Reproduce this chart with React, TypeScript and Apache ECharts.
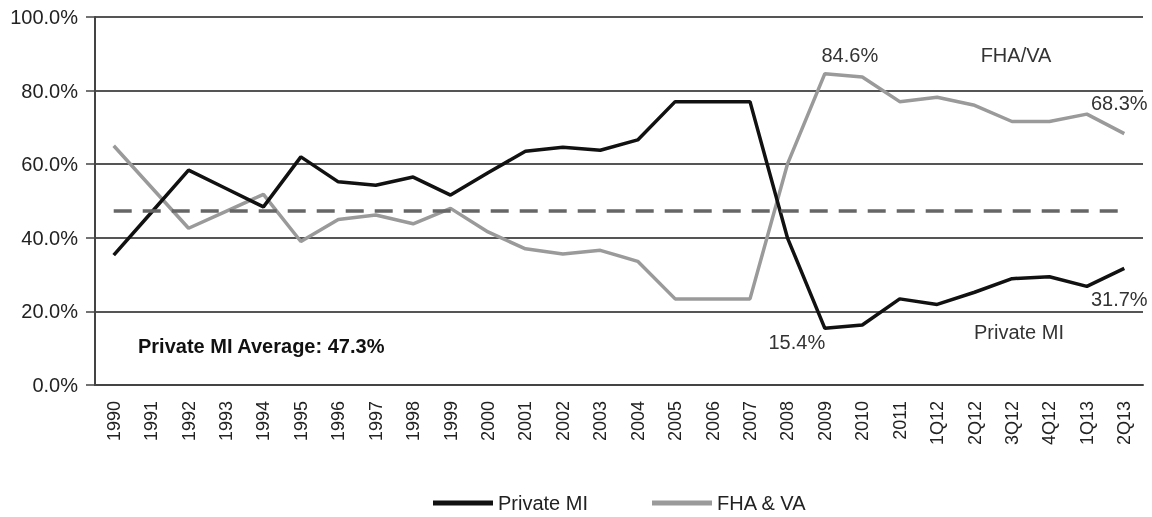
import React, { useEffect, useRef } from "react";
import * as echarts from "echarts";

const categories = ["1990","1991","1992","1993","1994","1995","1996","1997","1998","1999","2000","2001","2002","2003","2004","2005","2006","2007","2008","2009","2010","2011","1Q12","2Q12","3Q12","4Q12","1Q13","2Q13"];
const privateMI = [35.3,46.8,58.4,53.4,48.4,62.0,55.2,54.3,56.5,51.6,57.7,63.5,64.6,63.8,66.6,77.0,77.0,77.0,40.0,15.4,16.3,23.4,21.9,25.2,28.9,29.4,26.8,31.7];
const fhaVA = [65.0,53.8,42.6,47.2,51.8,39.0,45.0,46.2,43.8,48.0,41.6,37.0,35.6,36.6,33.6,23.4,23.4,23.4,60.0,84.6,83.7,77.0,78.2,76.0,71.6,71.6,73.6,68.3];
const privateMIAverage = 47.3;
const yTicks = { min: 0, max: 100, interval: 20 };

const FONT = '"Liberation Sans", Arial, Helvetica, sans-serif';

export default function App() {
  const ref = useRef<HTMLDivElement>(null);
  useEffect(() => {
    if (!ref.current) return;
    const chart = echarts.init(ref.current, null, { renderer: "svg" });
    const last = categories.length - 1;
    const peakIdx = fhaVA.indexOf(Math.max(...fhaVA));
    const troughIdx = privateMI.indexOf(Math.min(...privateMI));
    const labelStyle = { color: "#333", fontSize: 20, fontFamily: FONT, formatter: (p: any) => Number(p.value).toFixed(1) + "%" };
    chart.setOption({
      animation: false,
      textStyle: { fontFamily: FONT },
      grid: { left: 95, right: 9, top: 17, bottom: 132 },
      xAxis: {
        type: "category",
        data: categories,
        boundaryGap: true,
        axisLine: { lineStyle: { color: "#444", width: 2 } },
        axisTick: { length: 8, lineStyle: { color: "#444", width: 1.5 } },
        axisLabel: { rotate: 90, fontSize: 18, color: "#222", margin: 16, fontFamily: FONT },
      },
      yAxis: {
        type: "value",
        min: yTicks.min,
        max: yTicks.max,
        interval: yTicks.interval,
        axisLine: { show: true, lineStyle: { color: "#444", width: 2 } },
        axisTick: { show: true, length: 9, lineStyle: { color: "#444", width: 1.5 } },
        axisLabel: { fontSize: 20, color: "#222", margin: 17, fontFamily: FONT, formatter: (v: number) => v.toFixed(1) + "%" },
        splitLine: { lineStyle: { color: "#555", width: 2 } },
      },
      legend: {
        left: 433,
        top: 493,
        padding: 0,
        icon: "rect",
        itemWidth: 60,
        itemHeight: 5,
        itemGap: 64,
        textStyle: { fontSize: 20, lineHeight: 20, color: "#222", fontFamily: FONT },
        data: ["Private MI", "FHA & VA"],
      },
      series: [
        {
          name: "Private MI",
          type: "line",
          data: privateMI.map((v, i) => {
            if (i === troughIdx) return { value: v, label: { show: true, position: "bottom", offset: [-28, -1], ...labelStyle } };
            if (i === last) return { value: v, label: { show: true, position: "bottom", offset: [-5, 16], ...labelStyle } };
            return v;
          }),
          symbol: "circle",
          symbolSize: 0,
          showSymbol: true,
          lineStyle: { color: "#111", width: 3.5 },
          itemStyle: { color: "#111" },
          z: 3,
          markLine: {
            silent: true,
            symbol: "none",
            label: { show: false },
            lineStyle: { color: "#666", width: 3.5, type: [18, 11] },
            data: [[{ coord: [categories[0], privateMIAverage] }, { coord: [categories[last], privateMIAverage] }]],
          },
        },
        {
          name: "FHA & VA",
          type: "line",
          data: fhaVA.map((v, i) => {
            if (i === peakIdx) return { value: v, label: { show: true, position: "top", offset: [25, -4], ...labelStyle } };
            if (i === last) return { value: v, label: { show: true, position: "top", offset: [-5, -16], ...labelStyle } };
            return v;
          }),
          symbol: "circle",
          symbolSize: 0,
          showSymbol: true,
          lineStyle: { color: "#9a9a9a", width: 3.5 },
          itemStyle: { color: "#9a9a9a" },
          z: 2,
        },
      ],
      graphic: [
        { type: "text", left: 138, top: 336, style: { text: "Private MI Average: " + privateMIAverage.toFixed(1) + "%", fontSize: 20, fontWeight: "bold", fill: "#111", fontFamily: FONT } },
        { type: "text", x: 1016, y: 55, style: { text: "FHA/VA", fontSize: 20, fill: "#333", align: "center", verticalAlign: "middle", fontFamily: FONT } },
        { type: "text", x: 1019, y: 332, style: { text: "Private MI", fontSize: 20, fill: "#333", align: "center", verticalAlign: "middle", fontFamily: FONT } },
      ],
    });
    return () => chart.dispose();
  }, []);
  return <div ref={ref} style={{ position: "fixed", left: 0, top: 0, width: 1152, height: 517 }} />;
}
